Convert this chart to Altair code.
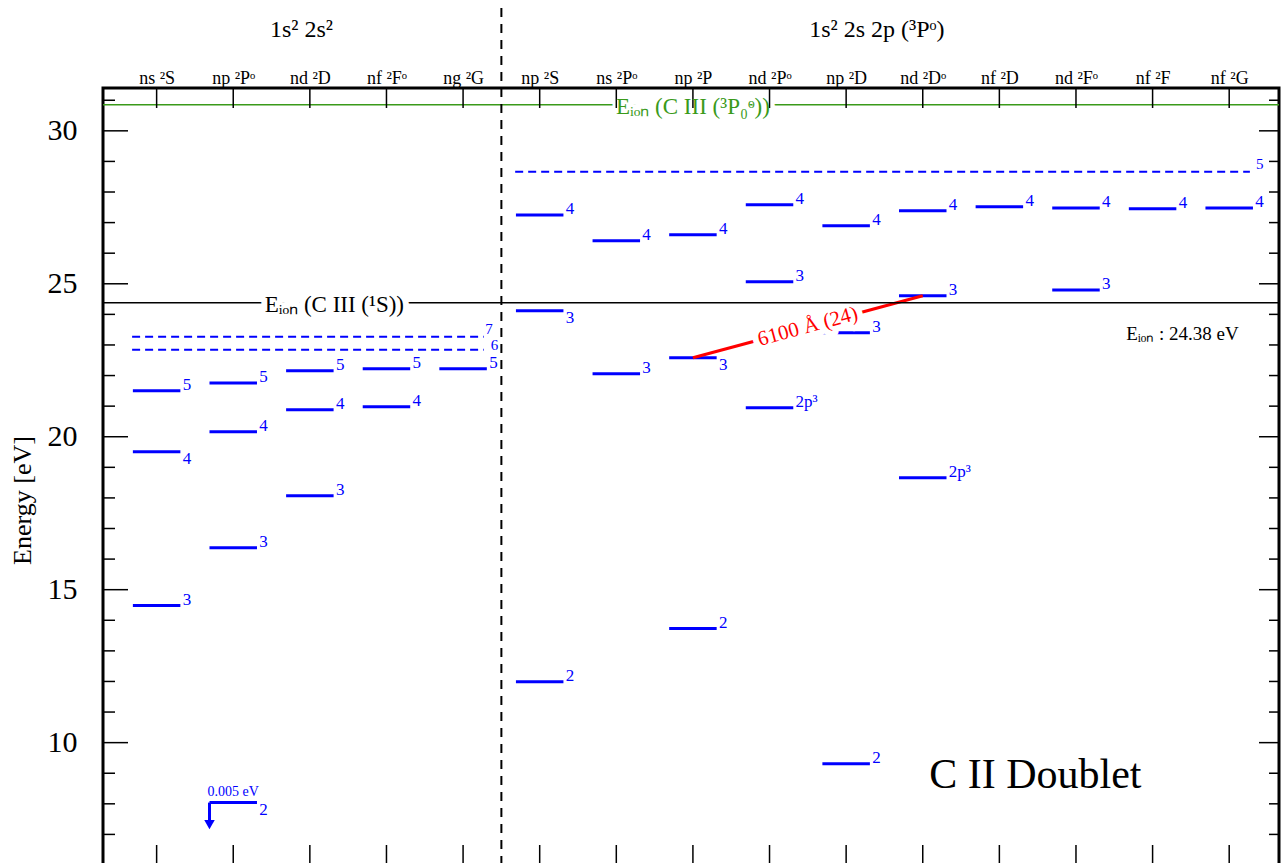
import math
import altair as alt
import pandas as pd

# ---------------- data ----------------
cats = ["ns ²S", "np ²Pᵒ", "nd ²D", "nf ²Fᵒ", "ng ²G",
        "np ²S", "ns ²Pᵒ", "np ²P", "nd ²Pᵒ", "np ²D", "nd ²Dᵒ",
        "nf ²D", "nd ²Fᵒ", "nf ²F", "nf ²G"]

group_titles = ["1s² 2s²", "1s² 2s 2p (³Pᵒ)"]
group_centers = [1.89, 9.40]

lvl_col = [0, 0, 0, 1, 1, 1, 2, 2, 2, 3, 3, 4,
           5, 5, 5, 6, 6, 7, 7, 7, 8, 8, 8, 9, 9, 9, 10, 10, 10, 11, 12, 12, 13, 14]
lvl_e = [14.48, 19.51, 21.50, 16.37, 20.16, 21.76, 18.07, 20.88, 22.16, 20.98, 22.22, 22.22,
         11.99, 24.12, 27.25, 22.06, 26.41, 13.73, 22.58, 26.60, 20.95, 25.07, 27.58,
         9.31, 23.40, 26.90, 18.66, 24.61, 27.39, 27.52, 24.80, 27.48, 27.45, 27.48]
lvl_lab = ["3", "4", "5", "3", "4", "5", "3", "4", "5", "4", "5", "5",
           "2", "3", "4", "3", "4", "2", "3", "4", "2p³", "3", "4",
           "2", "3", "4", "2p³", "3", "4", "4", "3", "4", "4", "4"]
lvl_side = ["hi", "lo", "hi", "hi", "hi", "hi", "hi", "hi", "hi", "hi", "hi", "hi",
            "hi", "lo", "hi", "hi", "hi", "hi", "lo", "hi", "hi", "hi", "hi",
            "hi", "hi", "hi", "hi", "hi", "hi", "hi", "hi", "hi", "hi", "hi"]

# series limits (dashed)
ser_e = [23.27, 22.84, 28.66]
ser_lab = ["7", "6", "5"]
ser_from = [0, 0, 5]
ser_to = [4, 4, 14]
ser_side = ["hi", "mid", "hi"]

# ionisation limits
ion_e = [24.38, 30.85]
ion_text = ["Eᵢₒₙ (C III (¹S))", "Eᵢₒₙ (C III (³P₀ᵒ))"]
ion_color = ["black", "#3a9a1a"]
ion_lab_x = [2.32, 7.0]

# transition
tr_from_col, tr_from_e = 7, 22.58
tr_to_col, tr_to_e = 10, 24.61
tr_label = "6100 Å (24)"

# ground level marker (off scale)
gnd_col, gnd_e, gnd_note, gnd_lab = 1, 8.04, "0.005 eV", "2"

# ---------------- geometry / style ----------------
W, H = 1176, 777
XMIN, XMAX = -0.7, 14.65
YMIN, YMAX = 6.0, 31.4
PXX = W / (XMAX - XMIN)
PXY = H / (YMAX - YMIN)
HALF = 0.31
BLUE = "#0000ff"
SERIF = "Liberation Serif"

xs = alt.Scale(domain=[XMIN, XMAX], nice=False, zero=False)
ys = alt.Scale(domain=[YMIN, YMAX], nice=False, zero=False)

label_expr = "[" + ",".join("'" + c + "'" for c in cats) + "][datum.value]"
x_axis = alt.Axis(orient="top", values=list(range(len(cats))), labelExpr=label_expr,
                  ticks=False, domain=False, grid=False, title=None,
                  labelFont=SERIF, labelFontSize=18, labelPadding=1, labelColor="black")
y_axis = alt.Axis(values=[10, 15, 20, 25, 30], ticks=False, domain=False, grid=False,
                  labelFont=SERIF, labelFontSize=30, labelPadding=26, labelColor="black",
                  title="Energy [eV]", titleFont=SERIF, titleFontSize=26, titleFontWeight="normal",
                  titleColor="black", titleAngle=270, titleX=-81, titleY=412,
                  titleAlign="center", titleBaseline="middle")


def X(f):
    return alt.X(f"{f}:Q", scale=xs, axis=x_axis)


def Y(f):
    return alt.Y(f"{f}:Q", scale=ys, axis=y_axis)


lv = pd.DataFrame({"pos": lvl_col, "e": lvl_e, "lab": lvl_lab, "side": lvl_side})
lv["x0"] = lv["pos"] - HALF
lv["x1"] = lv["pos"] + HALF
lv["lx"] = lv["pos"] + HALF + 0.03

sr = pd.DataFrame({"e": ser_e, "lab": ser_lab, "a": ser_from, "b": ser_to, "side": ser_side})
sr["x0"] = sr["a"] - 0.32
sr["x1"] = sr["b"] + 0.27
sr["lx"] = sr["x1"] + pd.Series([0.02, 0.09, 0.08])

ion = pd.DataFrame({"e": ion_e, "t": ion_text, "c": ion_color, "lx": ion_lab_x})

tr = pd.DataFrame({"x0": [tr_from_col], "y0": [tr_from_e], "x1": [tr_to_col], "y1": [tr_to_e],
                   "t": [tr_label]})
tr["mx"] = (tr["x0"] + tr["x1"]) / 2
tr["my"] = (tr["y0"] + tr["y1"]) / 2
ang = math.degrees(math.atan2((tr_to_e - tr_from_e) * PXY, (tr_to_col - tr_from_col) * PXX))
tr_angle = 360 - ang

gnd = pd.DataFrame({"pos": [gnd_col], "e": [gnd_e], "note": [gnd_note], "lab": [gnd_lab]})
gnd["x0"] = gnd["pos"] - HALF
gnd["x1"] = gnd["pos"] + HALF
gnd["lx"] = gnd["pos"] + HALF + 0.03
gnd["ya"] = gnd["e"] - 0.6
gnd["yt"] = gnd["e"] - 0.72

cat_df = pd.DataFrame({"pos": list(range(len(cats))), "name": cats})
grp = pd.DataFrame({"x": group_centers, "t": group_titles})

minor = pd.DataFrame({"v": [v for v in range(7, 32) if v % 5 != 0]})
major = pd.DataFrame({"v": [10, 15, 20, 25, 30]})

# ---------------- layers ----------------
tr_line = alt.Chart(tr).mark_rule(color="red", strokeWidth=3).encode(
    x=X("x0"), x2="x1", y=Y("y0"), y2="y1")
tr_halo = alt.Chart(tr).mark_text(font=SERIF, fontSize=21, angle=tr_angle, fill="white",
                                  stroke="white", strokeWidth=12, strokeJoin="round",
                                  baseline="middle").encode(
    x=X("mx"), y=Y("my"), text="t:N")

ion_line = alt.Chart(ion).mark_rule(strokeWidth=1.5).encode(
    x=alt.value(0), x2=alt.value(W), y=Y("e"), color=alt.Color("c:N", scale=None))
ion_halo = alt.Chart(ion).mark_text(font=SERIF, fontSize=23, fill="white", stroke="white",
                                    strokeWidth=12, strokeJoin="round", baseline="middle",
                                    dy=2).encode(
    x=X("lx"), y=Y("e"), text="t:N")

divider = alt.Chart(pd.DataFrame({"x": [4.5]})).mark_rule(
    color="black", strokeWidth=2, strokeDash=[9, 7]).encode(
    x=X("x"), y=alt.value(-80), y2=alt.value(H))

levels = alt.Chart(lv).mark_rule(color=BLUE, strokeWidth=3).encode(
    x=X("x0"), x2="x1", y=Y("e"))

series = alt.Chart(sr).mark_rule(color=BLUE, strokeWidth=2, strokeDash=[8, 5]).encode(
    x=X("x0"), x2="x1", y=Y("e"))

gnd_h = alt.Chart(gnd).mark_rule(color=BLUE, strokeWidth=3).encode(x=X("x0"), x2="x1", y=Y("e"))
gnd_v = alt.Chart(gnd).mark_rule(color=BLUE, strokeWidth=3).encode(x=X("x0"), y=Y("e"), y2="ya")
gnd_a = alt.Chart(gnd).mark_point(shape="triangle-down", filled=True, color=BLUE, size=110,
                                  opacity=1).encode(x=X("x0"), y=Y("yt"))
gnd_note_t = alt.Chart(gnd).mark_text(font=SERIF, fontSize=14, color=BLUE, dy=-11).encode(
    x=X("pos"), y=Y("e"), text="note:N")
gnd_lab_t = alt.Chart(gnd).mark_text(font=SERIF, fontSize=17, color=BLUE, align="left", dy=7,
                                     baseline="middle").encode(x=X("lx"), y=Y("e"), text="lab:N")

tick_l_min = alt.Chart(minor).mark_rule(color="black", strokeWidth=1.5).encode(
    y=Y("v"), x=alt.value(0), x2=alt.value(12))
tick_l_maj = alt.Chart(major).mark_rule(color="black", strokeWidth=1.5).encode(
    y=Y("v"), x=alt.value(0), x2=alt.value(25))
tick_r_min = alt.Chart(minor).mark_rule(color="black", strokeWidth=1.5).encode(
    y=Y("v"), x=alt.value(W - 10), x2=alt.value(W))
tick_r_maj = alt.Chart(major).mark_rule(color="black", strokeWidth=1.5).encode(
    y=Y("v"), x=alt.value(W - 20), x2=alt.value(W))
tick_top = alt.Chart(cat_df).mark_rule(color="black", strokeWidth=1.5).encode(
    x=X("pos"), y=alt.value(0), y2=alt.value(20))
tick_bot = alt.Chart(cat_df).mark_rule(color="black", strokeWidth=1.5).encode(
    x=X("pos"), y=alt.value(H - 20), y2=alt.value(H))

lab_hi = alt.Chart(lv).transform_filter("datum.side == 'hi'").mark_text(
    font=SERIF, fontSize=17, color=BLUE, align="left", baseline="middle", dy=-6).encode(
    x=X("lx"), y=Y("e"), text="lab:N")
lab_lo = alt.Chart(lv).transform_filter("datum.side == 'lo'").mark_text(
    font=SERIF, fontSize=17, color=BLUE, align="left", baseline="middle", dy=7).encode(
    x=X("lx"), y=Y("e"), text="lab:N")
ser_lab_hi = alt.Chart(sr).transform_filter("datum.side == 'hi'").mark_text(
    font=SERIF, fontSize=15, color=BLUE, align="left", baseline="middle", dy=-8).encode(
    x=X("lx"), y=Y("e"), text="lab:N")
ser_lab_mid = alt.Chart(sr).transform_filter("datum.side == 'mid'").mark_text(
    font=SERIF, fontSize=15, color=BLUE, align="left", baseline="middle", dy=-5).encode(
    x=X("lx"), y=Y("e"), text="lab:N")

ion_lab_t = alt.Chart(ion).mark_text(font=SERIF, fontSize=23, baseline="middle", dy=2).encode(
    x=X("lx"), y=Y("e"), text="t:N", color=alt.Color("c:N", scale=None))
ion_val = alt.Chart(pd.DataFrame({"x": [13.39], "e": [ion_e[0]], "t": ["Eᵢₒₙ : 24.38 eV"]})).mark_text(
    font=SERIF, fontSize=19, color="black", baseline="middle", dy=31).encode(
    x=X("x"), y=Y("e"), text="t:N")

tr_text = alt.Chart(tr).mark_text(font=SERIF, fontSize=21, angle=tr_angle, color="red",
                                  baseline="middle").encode(x=X("mx"), y=Y("my"), text="t:N")

grp_text = alt.Chart(grp).mark_text(font=SERIF, fontSize=24, color="black",
                                    baseline="middle").encode(
    x=X("x"), y=alt.value(-58), text="t:N")

title_text = alt.Chart(pd.DataFrame({"x": [11.47], "e": [8.95], "t": ["C II Doublet"]})).mark_text(
    font=SERIF, fontSize=42, color="black", baseline="middle").encode(
    x=X("x"), y=Y("e"), text="t:N")

chart = alt.layer(
    levels, tr_line, tr_halo, ion_line, ion_halo, divider, series,
    gnd_h, gnd_v, gnd_a,
    tick_l_min, tick_l_maj, tick_r_min, tick_r_maj, tick_top, tick_bot,
    lab_hi, lab_lo, ser_lab_hi, ser_lab_mid, gnd_note_t, gnd_lab_t,
    ion_lab_t, ion_val, tr_text, grp_text, title_text,
).properties(
    width=W, height=H,
    autosize=alt.AutoSizeParams(type="none"),
    padding={"left": 103, "top": 88, "right": 2, "bottom": 0},
    background="white",
).configure_view(stroke="black", strokeWidth=3)

chart.save("out.html", embed_options={"renderer": "svg", "actions": False})
